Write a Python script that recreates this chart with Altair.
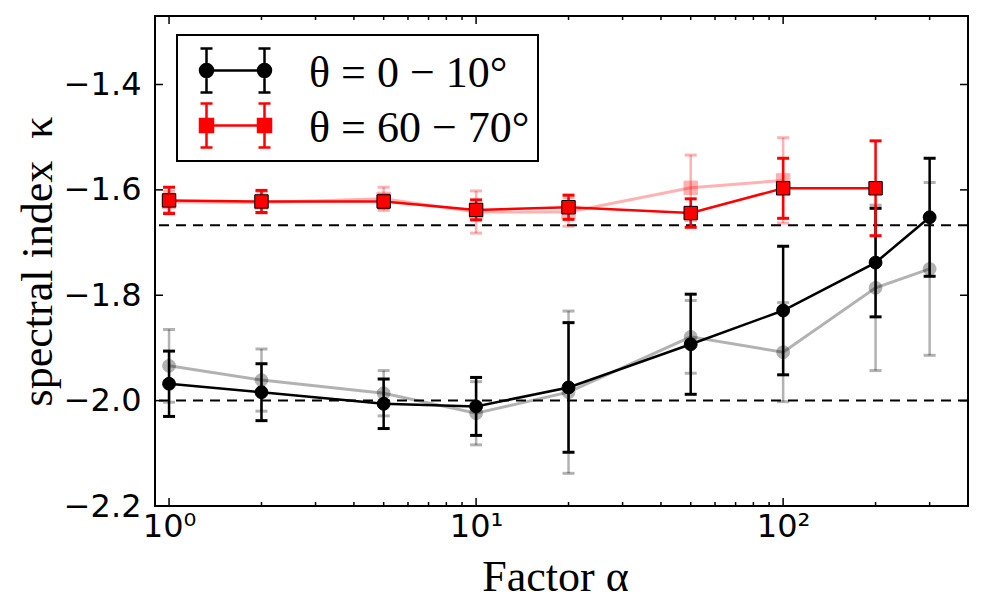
import math
import altair as alt
import pandas as pd

# ---- data -----------------------------------------------------------------
alpha = [1, 2, 5, 10, 20, 50, 100, 200, 300]
kappa_0_10 = [-1.968, -1.984, -2.006, -2.011, -1.975, -1.893, -1.829, -1.738, -1.652]
err_0_10 = [0.062, 0.054, 0.047, 0.055, 0.123, 0.095, 0.122, 0.103, 0.112]
kappa_0_10_ref = [-1.934, -1.961, -1.986, -2.024, -1.984, -1.879, -1.908, -1.786, -1.750]
err_0_10_ref = [0.069, 0.059, 0.043, 0.060, 0.154, 0.069, 0.094, 0.157, 0.164]

alpha_60_70 = [1, 2, 5, 10, 20, 50, 100, 200]
kappa_60_70 = [-1.620, -1.622, -1.622, -1.638, -1.633, -1.644, -1.597, -1.597]
err_60_70 = [0.025, 0.021, 0.012, 0.019, 0.023, 0.027, 0.057, 0.090]
alpha_60_70_ref = [1, 2, 5, 10, 20, 50, 100]
kappa_60_70_ref = [-1.623, -1.624, -1.617, -1.642, -1.642, -1.596, -1.582]
err_60_70_ref = [0.020, 0.020, 0.022, 0.040, 0.027, 0.062, 0.081]

reference_levels = [-2.0, -1.667]

series_names = ["θ = 0 − 10°", "θ = 60 − 70°"]

y_ticks = [-2.2, -2.0, -1.8, -1.6, -1.4]
x_major = [1, 10, 100]
x_minor = [2, 3, 4, 5, 6, 7, 8, 9, 20, 30, 40, 50, 60, 70, 80, 90, 200, 300]

# ---- layout ---------------------------------------------------------------
W, H = 813, 490
SERIF = "Liberation Serif"
SANS = "DejaVu Sans"

xscale = alt.Scale(type="log", domain=[0.9, 400], nice=False)
yscale = alt.Scale(domain=[-2.2, -1.27], nice=False, zero=False)

x_axis = alt.Axis(
    values=x_major,
    labelExpr="'10' + (datum.value == 1 ? '⁰' : datum.value == 10 ? '¹' : '²')",
    ticks=False, tickSize=0, domain=False, grid=False,
    labelFont=SANS, labelFontSize=32, labelColor="black", labelPadding=5,
    labelFlush=False, labelOverlap=False,
    title="Factor α", titleFont=SERIF, titleFontSize=44, titleFontWeight="normal",
    titleColor="black", titleX=400, titleY=84, titleAlign="center",
    titleBaseline="alphabetic",
)
y_axis = alt.Axis(
    values=y_ticks,
    labelExpr="replace(format(datum.value, '.1f'), '-', '−')",
    ticks=False, tickSize=0, domain=False, grid=False,
    labelFont=SANS, labelFontSize=32, labelColor="black", labelPadding=14,
    labelFlush=False, labelOverlap=False,
    title="spectral index\u2002κ", titleFont=SERIF, titleFontSize=44,
    titleFontWeight="normal", titleColor="black", titleAngle=270,
    titleX=-104, titleY=245, titleAlign="center", titleBaseline="alphabetic",
)

X = alt.X("alpha:Q", scale=xscale, axis=x_axis)
Y = alt.Y("kappa:Q", scale=yscale, axis=y_axis)


def frame(a, k, e):
    return pd.DataFrame({
        "alpha": a,
        "kappa": k,
        "lo": [v - d for v, d in zip(k, e)],
        "hi": [v + d for v, d in zip(k, e)],
    })


def series(df, color, shape, size, opacity, line_w, edge, edge_w):
    base = alt.Chart(df)
    line = base.mark_line(color=color, strokeWidth=line_w, opacity=opacity).encode(x=X, y=Y)
    bars = base.mark_rule(color=color, strokeWidth=2.5, opacity=opacity).encode(
        x=X, y=alt.Y("lo:Q", scale=yscale, axis=y_axis), y2="hi:Q")
    cap_lo = base.mark_tick(color=color, orient="horizontal", size=12, thickness=3,
                            opacity=opacity).encode(x=X, y=alt.Y("lo:Q", scale=yscale, axis=y_axis))
    cap_hi = base.mark_tick(color=color, orient="horizontal", size=12, thickness=3,
                            opacity=opacity).encode(x=X, y=alt.Y("hi:Q", scale=yscale, axis=y_axis))
    pts = base.mark_point(shape=shape, size=size, filled=True, fill=color, stroke=edge,
                          strokeWidth=edge_w, opacity=opacity).encode(x=X, y=Y)
    return [line, bars, cap_lo, cap_hi, pts]


df_a = frame(alpha, kappa_0_10, err_0_10)
df_a_ref = frame(alpha, kappa_0_10_ref, err_0_10_ref)
df_b = frame(alpha_60_70, kappa_60_70, err_60_70)
df_b_ref = frame(alpha_60_70_ref, kappa_60_70_ref, err_60_70_ref)

dashes = alt.Chart(pd.DataFrame({"kappa": reference_levels})).mark_rule(
    color="black", strokeWidth=2, strokeDash=[10, 7]).encode(y=Y)

# ---- inward tick marks on all four sides ------------------------------------
tick_style = dict(color="black", strokeWidth=1.5)
ydf = pd.DataFrame({"kappa": y_ticks})
yt_left = alt.Chart(ydf).mark_rule(**tick_style).encode(y=Y, x=alt.value(0), x2=alt.value(8))
yt_right = alt.Chart(ydf).mark_rule(**tick_style).encode(y=Y, x=alt.value(W - 8), x2=alt.value(W))
xmaj = pd.DataFrame({"alpha": x_major})
xmin = pd.DataFrame({"alpha": x_minor})
xt = [
    alt.Chart(xmaj).mark_rule(**tick_style).encode(x=X, y=alt.value(H), y2=alt.value(H - 8)),
    alt.Chart(xmaj).mark_rule(**tick_style).encode(x=X, y=alt.value(0), y2=alt.value(8)),
    alt.Chart(xmin).mark_rule(**tick_style).encode(x=X, y=alt.value(H), y2=alt.value(H - 4)),
    alt.Chart(xmin).mark_rule(**tick_style).encode(x=X, y=alt.value(0), y2=alt.value(4)),
]

# ---- legend: error-bar glyphs as custom symbol paths -----------------------
SYM = 3364
U = math.sqrt(SYM) / 2


def glyph(marker, dx=20, dy=-3):
    f = lambda v: f"{v / U:.4f}"
    parts = [f"M{f(-29 + dx)},{f(dy)}L{f(29 + dx)},{f(dy)}"]
    for c in (-29, 29):
        x = c + dx
        top, bot = dy - 22, dy + 22
        parts.append(f"M{f(x)},{f(top)}L{f(x)},{f(bot)}"
                     f"M{f(x - 6)},{f(top)}L{f(x + 6)},{f(top)}"
                     f"M{f(x - 6)},{f(bot)}L{f(x + 6)},{f(bot)}")
        if marker == "circle":
            parts.append(f"M{f(x + 6.5)},{f(dy)}A{f(6.5)},{f(6.5)} 0 1 1 {f(x - 6.5)},{f(dy)}"
                         f"A{f(6.5)},{f(6.5)} 0 1 1 {f(x + 6.5)},{f(dy)}Z")
        else:
            parts.append(f"M{f(x - 6.5)},{f(dy - 6.5)}L{f(x + 6.5)},{f(dy - 6.5)}"
                         f"L{f(x + 6.5)},{f(dy + 6.5)}L{f(x - 6.5)},{f(dy + 6.5)}Z")
    return "".join(parts)


legend = alt.Legend(
    title=None, orient="none", legendX=22, legendY=19, padding=8,
    strokeColor="black", fillColor="white", cornerRadius=0,
    symbolSize=SYM, symbolStrokeWidth=2.5, symbolOpacity=1,
    labelFont=SERIF, labelFontSize=44, labelColor="black", labelOffset=63,
    labelLimit=600, rowPadding=0,
)
legend_df = pd.concat([
    df_a.assign(series=series_names[0]),
    df_b.assign(series=series_names[1]),
])
sdom = series_names
key = alt.Chart(legend_df).mark_point(filled=True, opacity=0).encode(
    x=X, y=Y,
    shape=alt.Shape("series:N", scale=alt.Scale(domain=sdom, range=[glyph("circle"), glyph("square")]),
                    legend=legend),
    fill=alt.Fill("series:N", scale=alt.Scale(domain=sdom, range=["black", "red"]), legend=legend),
    stroke=alt.Stroke("series:N", scale=alt.Scale(domain=sdom, range=["black", "red"]), legend=legend),
)

layers = (
    [dashes]
    + series(df_a_ref, "black", "circle", 165, 0.3, 3, "black", 1)
    + series(df_b_ref, "red", "square", 180, 0.3, 3, "red", 1)
    + series(df_a, "black", "circle", 165, 1, 2.5, "black", 1)
    + series(df_b, "red", "square", 180, 1, 2.5, "black", 1)
    + [yt_left, yt_right] + xt + [key]
)

chart = alt.layer(*layers).properties(
    width=W, height=H,
    autosize=alt.AutoSizeParams(type="none"),
    padding={"left": 155, "top": 16, "right": 16, "bottom": 108},
).configure_view(stroke="black", strokeWidth=2).configure_legend(strokeWidth=2)

chart.save("out.html", embed_options={"renderer": "svg", "actions": False})
